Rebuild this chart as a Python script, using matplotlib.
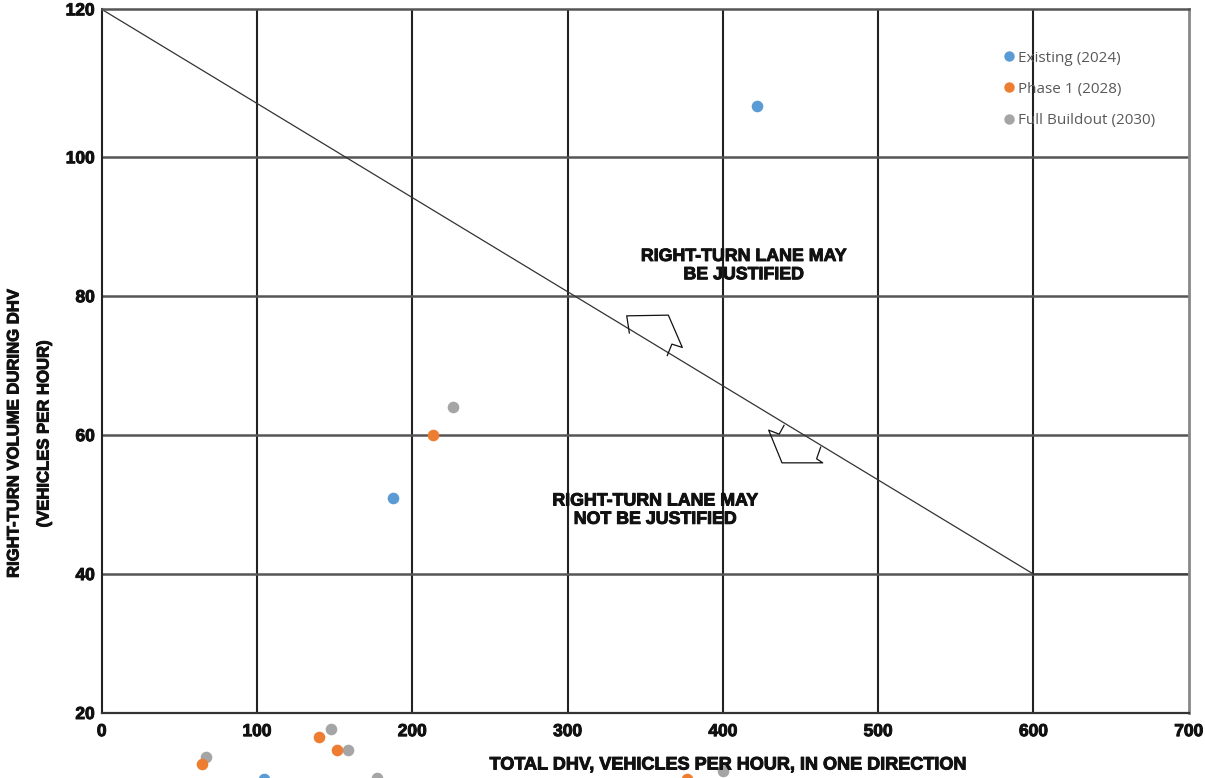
import numpy as np
import matplotlib
matplotlib.use("Agg")
import matplotlib.pyplot as plt
from matplotlib.lines import Line2D
import matplotlib.patheffects as pe

# ---------------- data ----------------
x_ticks = [0, 100, 200, 300, 400, 500, 600, 700]
y_ticks = [20, 40, 60, 80, 100, 120]

# warrant threshold line (total DHV, right-turn volume)
threshold_x = [0, 600, 700]
threshold_y = [120, 40, 40]

existing_x = [421.8, 187.4, 104.7]
existing_y = [106.9, 51.0, 10.5]
phase1_x = [213.1, 64.4, 140.1, 151.3, 377.1]
phase1_y = [60.0, 12.7, 16.6, 14.7, 10.5]
full_x = [226.4, 67.2, 147.5, 158.4, 177.5, 399.9]
full_y = [64.1, 13.7, 17.7, 14.7, 10.7, 11.6]

series_labels = ["Existing (2024)", "Phase 1 (2028)", "Full Buildout (2030)"]
series_colors = ["#5B9BD5", "#ED7D31", "#A5A5A5"]

# hollow arrow outlines (data coords)
arrow_up_x = [339.8, 338.1, 364.9, 373.9, 367.2, 364.2]
arrow_up_y = [74.7, 77.17, 77.27, 72.62, 73.1, 71.45]
arrow_dn_x = [439.4, 436.3, 429.5, 438.1, 464.3, 460.4, 463.0]
arrow_dn_y = [61.4, 60.14, 60.72, 56.01, 56.01, 56.59, 58.27]

region_text_upper = "RIGHT-TURN LANE MAY\nBE JUSTIFIED"
region_text_lower = "RIGHT-TURN LANE MAY\nNOT BE JUSTIFIED"
xlabel = "TOTAL DHV, VEHICLES PER HOUR, IN ONE DIRECTION"
ylabel1 = "RIGHT-TURN VOLUME DURING DHV"
ylabel2 = "(VEHICLES PER HOUR)"

# ---------------- figure ----------------
W, H = 1205, 778
fig = plt.figure(figsize=(W / 100, H / 100), dpi=100)
ax = fig.add_axes([101.7 / W, 1 - 713 / H, (1188.7 - 101.7) / W, (713 - 9.3) / H])

k = 148 / 139.0


def fwd(y):
    y = np.asarray(y, dtype=float)
    return np.where(y <= 100, y, 100 + (y - 100) * k)


def inv(u):
    u = np.asarray(u, dtype=float)
    return np.where(u <= 100, u, 100 + (u - 100) / k)


ax.set_yscale("function", functions=(fwd, inv))
ax.set_xlim(0, 700)
ax.set_ylim(20, 120)
ax.set_xticks(x_ticks)
ax.set_yticks(y_ticks)

bold = dict(family="Liberation Sans", weight="bold")
stroke = [pe.withStroke(linewidth=0.7, foreground="#111111")]

ax.tick_params(length=0, labelsize=12.5, colors="#111111")
ax.tick_params(axis="x", pad=8)
ax.tick_params(axis="y", pad=5)
for lab in ax.get_xticklabels() + ax.get_yticklabels():
    lab.set_fontfamily("Liberation Sans")
    lab.set_fontweight("bold")
    lab.set_path_effects(stroke)

# grid
for xv in x_ticks[1:-1]:
    ax.axvline(xv, color="#222222", lw=1.5, zorder=1)
for yv in y_ticks[1:-1]:
    ax.axhline(yv, color="#555555", lw=1.8, zorder=1)

for side, col, lw in [("left", "#222222", 1.5), ("bottom", "#333333", 1.6),
                      ("top", "#555555", 1.8), ("right", "#888888", 2.0)]:
    ax.spines[side].set_color(col)
    ax.spines[side].set_linewidth(lw)

# threshold line
ax.plot(threshold_x, threshold_y, color="#333333", lw=0.9, zorder=2)
ax.plot(arrow_up_x, arrow_up_y, color="#111111", lw=0.9, zorder=2)
ax.plot(arrow_dn_x, arrow_dn_y, color="#111111", lw=0.9, zorder=2)

# region texts
ax.text(413.3, 84.4, region_text_upper, ha="center", va="center", fontsize=12.8,
        linespacing=1.1, color="#111111", path_effects=stroke, **bold)
ax.text(356.3, 49.2, region_text_lower, ha="center", va="center", fontsize=12.8,
        linespacing=1.1, color="#111111", path_effects=stroke, **bold)

# scatter
ms = 70
ax.scatter(full_x, full_y, s=ms, color=series_colors[2], zorder=4, clip_on=False, linewidths=0)
ax.scatter(phase1_x, phase1_y, s=ms, color=series_colors[1], zorder=5, clip_on=False, linewidths=0)
ax.scatter(existing_x, existing_y, s=ms, color=series_colors[0], zorder=6, clip_on=False, linewidths=0)

# axis labels
fig.text(728 / W, 1 - 765 / H, xlabel, ha="center", va="center", fontsize=13,
         color="#111111", path_effects=stroke, **bold)
fig.text(14 / W, 1 - 434 / H, ylabel1, ha="center", va="center", rotation=90,
         fontsize=12, color="#111111", path_effects=stroke, **bold)
fig.text(44 / W, 1 - 434 / H, ylabel2, ha="center", va="center", rotation=90,
         fontsize=12, color="#111111", path_effects=stroke, **bold)

# legend
handles = [Line2D([], [], marker="o", linestyle="none", markersize=7.5,
                  markerfacecolor=c, markeredgewidth=0) for c in series_colors]
leg = ax.legend(handles, series_labels, loc="upper left",
                bbox_to_anchor=(1003.2 / W, 1 - 50.5 / H), bbox_transform=fig.transFigure,
                frameon=False, borderpad=0, borderaxespad=0, handlelength=0.8,
                handletextpad=0.19, labelspacing=1.07,
                prop=dict(family="Open Sans", size=11))
for t in leg.get_texts():
    t.set_color("#595959")

fig.savefig("out.png", dpi=100)
